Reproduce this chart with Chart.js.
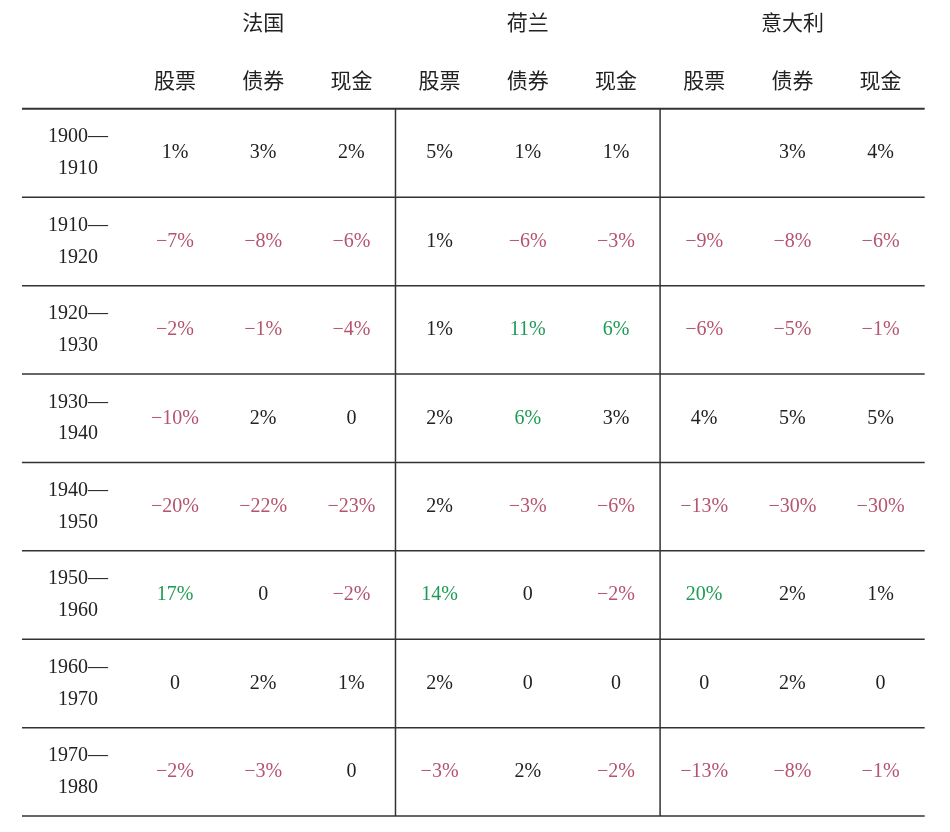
<!DOCTYPE html>
<html><head><meta charset="utf-8">
<script src="https://cdn.jsdelivr.net/npm/chart.js@4"></script>
<style>html,body{margin:0;background:#fff}#wrap{width:950px;height:832px}</style>
</head><body><div id="wrap"><canvas id="c"></canvas></div>
<script>
// Table data
const countries = ['法国', '荷兰', '意大利'];
const assets = ['股票', '债券', '现金'];
const periods = [['1900—', '1910'], ['1910—', '1920'], ['1920—', '1930'], ['1930—', '1940'],
  ['1940—', '1950'], ['1950—', '1960'], ['1960—', '1970'], ['1970—', '1980']];
// returns per period, columns: FR stock/bond/cash, NL stock/bond/cash, IT stock/bond/cash (null = blank)
const values = [
  [1, 3, 2, 5, 1, 1, null, 3, 4],
  [-7, -8, -6, 1, -6, -3, -9, -8, -6],
  [-2, -1, -4, 1, 11, 6, -6, -5, -1],
  [-10, 2, 0, 2, 6, 3, 4, 5, 5],
  [-20, -22, -23, 2, -3, -6, -13, -30, -30],
  [17, 0, -2, 14, 0, -2, 20, 2, 1],
  [0, 2, 1, 2, 0, 0, 0, 2, 0],
  [-2, -3, 0, -3, 2, -2, -13, -8, -1]
];
// cells drawn in green
const highlight = [[2, 4], [2, 5], [3, 4], [5, 0], [5, 3], [5, 6]];

const fmt = v => v === 0 ? '0' : (v < 0 ? '−' + Math.abs(v) : v) + '%';
const points = [];
values.forEach((row, j) => row.forEach((v, i) => points.push({ x: i, y: j, v })));

const tablePlugin = {
  id: 'table',
  afterDraw(chart) {
    const { ctx, scales: { x, y } } = chart;
    ctx.save();
    ctx.strokeStyle = '#333';
    // horizontal rules
    for (let k = -0.5; k <= 7.5; k += 1) {
      ctx.lineWidth = k === -0.5 ? 2 : 1.5;
      ctx.beginPath();
      ctx.moveTo(x.getPixelForValue(-1.735), y.getPixelForValue(k));
      ctx.lineTo(x.getPixelForValue(8.5), y.getPixelForValue(k));
      ctx.stroke();
    }
    // vertical rules
    ctx.lineWidth = 1.5;
    [2.5, 5.5].forEach(k => {
      ctx.beginPath();
      ctx.moveTo(x.getPixelForValue(k), y.getPixelForValue(-0.5));
      ctx.lineTo(x.getPixelForValue(k), y.getPixelForValue(7.5));
      ctx.stroke();
    });
    ctx.textAlign = 'center';
    ctx.textBaseline = 'middle';
    ctx.fillStyle = '#222';
    ctx.font = '21px "Noto Sans CJK SC"';
    countries.forEach((c, n) => ctx.fillText(c, x.getPixelForValue(n * 3 + 1), y.getPixelForValue(-1.48)));
    for (let i = 0; i < 9; i++) ctx.fillText(assets[i % 3], x.getPixelForValue(i), y.getPixelForValue(-0.826));
    ctx.font = '20px "Liberation Serif"';
    periods.forEach((p, j) => {
      ctx.fillStyle = '#222';
      ctx.fillText(p[0], x.getPixelForValue(-1.1), y.getPixelForValue(j - 0.18));
      ctx.fillText(p[1], x.getPixelForValue(-1.1), y.getPixelForValue(j + 0.18));
    });
    points.forEach(p => {
      if (p.v === null) return;
      const green = highlight.some(h => h[0] === p.y && h[1] === p.x);
      ctx.fillStyle = green ? '#1f9a56' : (p.v < 0 ? '#b4546e' : '#222');
      ctx.fillText(fmt(p.v), x.getPixelForValue(p.x), y.getPixelForValue(p.y));
    });
    ctx.restore();
  }
};

new Chart(document.getElementById('c'), {
  type: 'scatter',
  data: { datasets: [{ data: points, pointRadius: 0, pointHoverRadius: 0 }] },
  options: {
    responsive: true, maintainAspectRatio: false, animation: false,
    layout: { padding: 0 },
    plugins: { legend: { display: false }, tooltip: { enabled: false } },
    scales: {
      x: { type: 'linear', min: -1.984, max: 8.787, display: false },
      y: { type: 'linear', min: -1.731, max: 7.68, reverse: true, display: false }
    }
  },
  plugins: [tablePlugin]
});
</script></body></html>
